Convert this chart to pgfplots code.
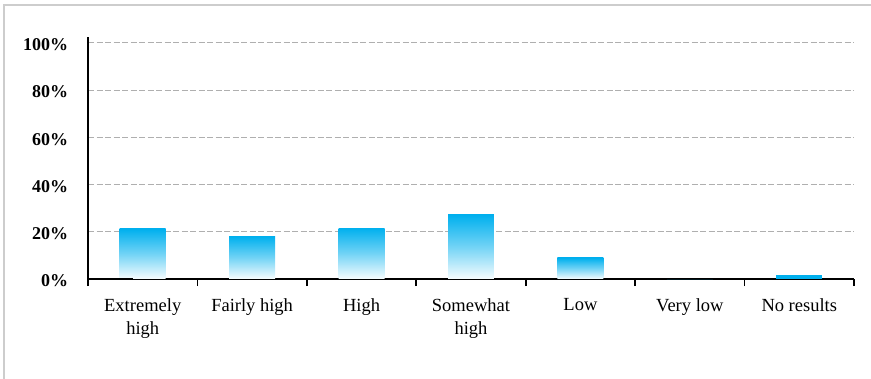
\documentclass[border=0pt]{standalone}
\usepackage{pgfplots}
\pgfplotsset{compat=1.18}
\usepackage{fontspec}
\setmainfont{Liberation Serif}
\definecolor{barcyan}{RGB}{0,176,238}
\definecolor{gridgray}{RGB}{175,175,175}
\definecolor{framegray}{RGB}{205,205,205}
\begin{document}
\begin{tikzpicture}
\path[use as bounding box] (0,0) rectangle (871bp,379bp);
\draw[framegray, line width=1.5bp] (4bp,0) -- (4bp,374bp) -- (871bp,374bp);
\begin{axis}[
  at={(88bp,100bp)}, anchor=south west,
  scale only axis, width=766bp, height=242bp,
  xmin=-0.5, xmax=6.5, ymin=0, ymax=102.5,
  axis x line*=bottom, axis y line*=left,
  axis line style={line width=1.6bp, black, -},
  xtick={0,...,6},
  xticklabels={Extremely\\high, Fairly high, High, Somewhat\\high, Low, Very low, No results},
  minor xtick={-0.5,0.5,...,6.5},
  major x tick style={draw=none},
  minor tick length=7bp,
  minor x tick style={line width=1.6bp, black},
  tick align=outside,
  xticklabel style={align=center, font=\fontsize{18.5bp}{23bp}\selectfont, yshift=-12bp},
  ytick={0,20,40,60,80,100},
  major y tick style={draw=none},
  yticklabel={\pgfmathprintnumber{\tick}\%},
  /pgf/number format/assume math mode=true,
  yticklabel style={font=\fontsize{18bp}{20bp}\selectfont\bfseries, xshift=-12bp, yshift=-2bp},
  ymajorgrids, 
  grid style={gridgray, line width=1bp, dash pattern=on 6bp off 2.5bp},
  clip=false,
  bar width=0.42,
]
\addplot[ybar, draw=none, top color=barcyan, bottom color=barcyan!3, middle color=barcyan!55] coordinates {(0,21.2)};
\addplot[ybar, draw=none, top color=barcyan, bottom color=barcyan!3, middle color=barcyan!55] coordinates {(1,18)};
\addplot[ybar, draw=none, top color=barcyan, bottom color=barcyan!3, middle color=barcyan!55] coordinates {(2,21.6)};
\addplot[ybar, draw=none, top color=barcyan, bottom color=barcyan!3, middle color=barcyan!55] coordinates {(3,27.2)};
\addplot[ybar, draw=none, top color=barcyan, bottom color=barcyan!3, middle color=barcyan!55] coordinates {(4,8.9)};
\addplot[ybar, draw=none, fill=barcyan] coordinates {(5,0)};
\addplot[ybar, draw=none, fill=barcyan] coordinates {(6,1.7)};
\draw[line width=1.6bp] (axis cs:-0.5,0) -- ++(-10bp,0);
\end{axis}
\end{tikzpicture}
\end{document}
